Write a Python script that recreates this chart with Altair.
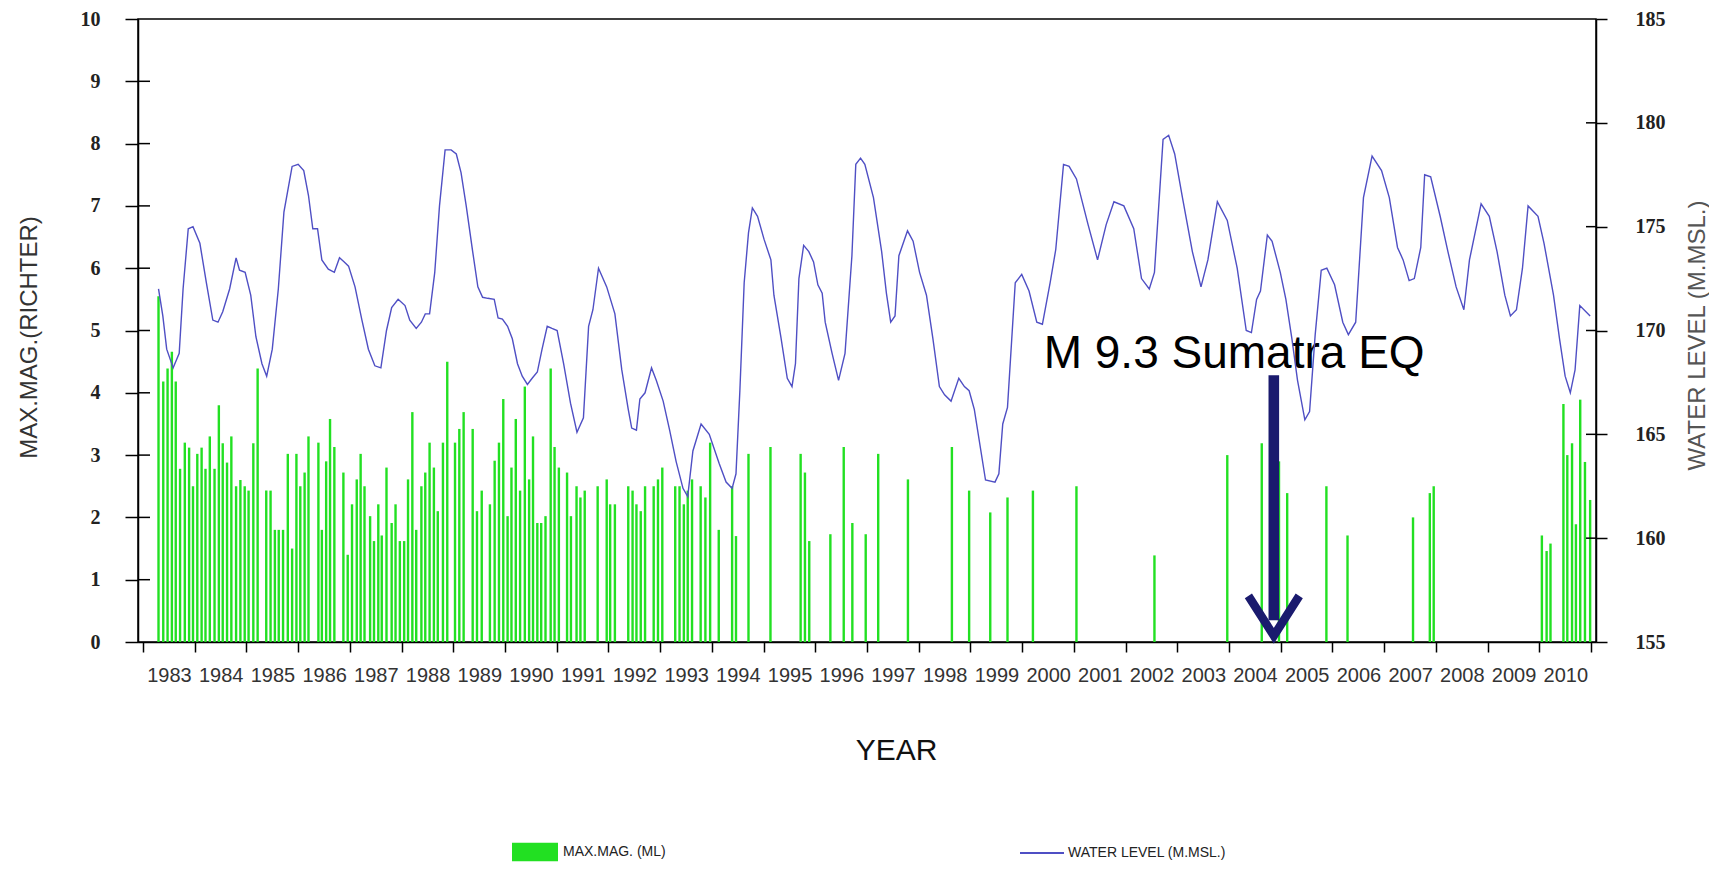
import altair as alt
import pandas as pd

# ---------------- data ----------------
# month index counted from Jan 1983 (0) to Dec 2010 end (336)
wl_month = [3.6, 4.6, 5.5, 7.0, 8.4, 9.3, 10.5, 11.6, 13.2, 14.7, 16.2, 17.4, 18.5, 20.1, 21.6, 22.4, 23.7,
            25.0, 26.2, 27.6, 28.7, 30.0, 31.4, 32.7, 34.6, 36.0, 37.3, 38.4, 39.4, 40.5, 41.5, 43.0, 44.4,
            45.6, 46.7, 47.7, 49.2, 50.8, 52.3, 53.8, 55.2, 56.5, 57.7, 59.2, 60.8, 61.9, 63.4, 64.6, 65.5,
            66.5, 67.7, 68.8, 70.1, 71.5, 72.7, 73.8, 75.0, 76.5, 77.7, 78.8, 80.0, 81.5, 82.4, 83.4, 84.6,
            85.7, 86.9, 88.0, 89.2, 90.3, 91.5, 92.6, 93.8, 94.9, 96.1, 97.6, 99.2, 100.7, 102.2, 103.4,
            104.4, 105.7, 107.6, 109.5, 111.1, 112.6, 113.4, 114.5, 115.3, 116.5, 118.0, 119.1, 120.7,
            122.2, 123.7, 125.3, 126.4, 127.6, 129.5, 131.4, 133.7, 135.3, 136.7, 137.6, 138.5, 139.5,
            140.5, 141.4, 142.6, 144.1, 145.7, 146.4, 148.0, 149.5, 150.6, 151.4, 152.2, 153.3, 154.5,
            155.6, 156.6, 157.6, 158.3, 159.9, 161.4, 162.9, 164.5, 165.4, 166.5, 167.5, 169.5, 171.4,
            172.5, 173.5, 174.5, 175.4, 177.4, 178.7, 180.2, 181.8, 183.3, 184.8, 186.0, 187.5, 189.3,
            190.6, 191.7, 192.9, 195.5, 197.7, 198.6, 199.5, 200.6, 202.4, 203.9, 205.6, 207.4, 208.7,
            210.5, 211.8, 213.6, 214.9, 216.6, 219.3, 221.5, 223.5, 225.3, 227.6, 229.9, 231.7, 233.5,
            234.7, 236.7, 238.0, 239.4, 241.2, 243.5, 245.5, 247.1, 249.3, 251.6, 253.9, 256.0, 257.2,
            258.4, 259.3, 260.9, 262.0, 263.9, 265.2, 266.6, 267.9, 269.6, 270.7, 272.0, 273.4, 274.7,
            276.5, 278.4, 279.7, 281.4, 283.2, 285.2, 287.4, 289.2, 291.1, 292.4, 293.8, 295.0, 296.5,
            297.4, 298.8, 301.0, 302.8, 304.7, 306.5, 307.8, 310.5, 312.4, 314.2, 316.0, 317.3, 318.7,
            320.1, 321.4, 323.7, 325.1, 327.3, 328.7, 330.0, 331.2, 332.3, 333.4, 335.8]
wl_level = [172.0, 170.7, 169.1, 168.2, 168.9, 172.0, 174.9, 175.0, 174.2, 172.3, 170.5, 170.4, 170.9, 172.0,
            173.5, 172.9, 172.8, 171.7, 169.7, 168.4, 167.8, 169.1, 172.0, 175.7, 177.9, 178.0, 177.7,
            176.5, 174.9, 174.9, 173.4, 172.95, 172.8, 173.5, 173.3, 173.1, 172.1, 170.5, 169.1, 168.3,
            168.2, 170.0, 171.1, 171.5, 171.2, 170.5, 170.1, 170.4, 170.8, 170.8, 172.8, 176.0, 178.7,
            178.7, 178.5, 177.6, 176.0, 173.8, 172.1, 171.6, 171.55, 171.5, 170.6, 170.55, 170.2, 169.6,
            168.4, 167.8, 167.4, 167.7, 168.0, 169.1, 170.2, 170.1, 170.0, 168.4, 166.5, 165.1, 165.8,
            170.2, 171.0, 173.0, 172.1, 170.8, 168.1, 166.2, 165.3, 165.2, 166.7, 167.0, 168.2, 167.6,
            166.6, 165.2, 163.7, 162.4, 162.0, 164.2, 165.5, 165.0, 163.6, 162.7, 162.4, 163.1, 167.1,
            172.3, 174.7, 175.9, 175.5, 174.4, 173.4, 171.7, 169.7, 167.7, 167.3, 168.4, 172.5, 174.1,
            173.8, 173.3, 172.2, 171.8, 170.4, 168.9, 167.6, 168.9, 173.6, 178.0, 178.3, 178.0, 176.4,
            173.8, 171.8, 170.4, 170.7, 173.6, 174.8, 174.3, 172.8, 171.7, 169.6, 167.3, 166.9, 166.6,
            167.7, 167.3, 167.1, 166.2, 162.8, 162.7, 163.1, 165.5, 166.3, 172.3, 172.7, 171.9, 170.4,
            170.3, 172.3, 173.9, 178.0, 177.9, 177.3, 175.1, 173.4, 175.1, 176.2, 176.0, 174.9, 172.5,
            172.0, 172.8, 179.2, 179.4, 178.5, 176.4, 173.8, 172.1, 173.4, 176.2, 175.3, 173.0, 170.0,
            169.9, 171.5, 171.9, 174.6, 174.3, 172.8, 171.5, 169.6, 167.6, 165.7, 166.1, 169.8, 172.9,
            173.0, 172.2, 170.4, 169.8, 170.4, 176.4, 178.4, 177.7, 176.4, 174.0, 173.4, 172.4, 172.5,
            174.0, 177.5, 177.4, 175.5, 173.8, 172.1, 171.0, 173.4, 176.1, 175.5, 173.8, 171.7, 170.7,
            171.0, 173.0, 176.0, 175.5, 174.2, 171.7, 169.6, 167.8, 167.0, 168.1, 171.2, 170.7]

eq_month = [3.6, 4.7, 5.7, 6.7, 7.6, 8.6, 9.7, 10.7, 11.6, 12.6, 13.6, 14.5, 15.5, 16.6, 17.6, 18.5, 19.5,
            20.5, 21.6, 22.6, 23.6, 24.5, 25.6, 26.6, 28.6, 29.6, 30.6, 31.5, 32.5, 33.6, 34.6, 35.6, 36.5,
            37.5, 38.4, 40.7, 41.5, 42.5, 43.4, 44.4, 46.5, 47.5,
            48.5, 49.6, 50.5, 51.4, 52.7, 53.6, 54.6, 55.4, 56.5, 57.7, 58.6, 59.6, 60.6, 61.5, 62.5, 63.4,
            64.6, 65.5, 66.5, 67.5, 68.4, 69.6, 70.6, 72.4, 73.4, 74.4, 76.5, 77.5, 78.6, 80.5, 81.6, 82.6,
            83.6, 84.6, 85.5, 86.5, 87.5, 88.6, 89.6, 90.5, 91.5, 92.4, 93.4, 94.6, 95.5,
            96.5, 98.4, 99.3, 100.6, 101.5, 102.5, 105.5, 107.6, 108.4, 109.5, 112.6, 113.6, 114.5, 115.5,
            116.5, 118.5, 119.5, 120.5, 123.5, 124.5, 125.5, 126.4, 127.4, 129.4, 130.5, 131.6, 133.6,
            136.7, 137.6, 140.5,
            145.6, 152.6, 153.6, 154.6, 159.5, 162.6, 164.6, 167.7, 170.6, 177.5, 187.7, 191.7,
            196.6, 200.6, 206.5, 216.6,
            234.7, 251.6, 259.6, 263.6, 265.5, 274.6, 279.5, 294.7, 298.6, 299.5, 324.6, 325.7, 326.6,
            329.6, 330.5, 331.6, 332.5, 333.5, 334.6, 335.8]
eq_mag = [5.55, 4.18, 4.39, 4.66, 4.18, 2.78, 3.2, 3.12, 2.5, 3.02, 3.12, 2.78, 3.3, 2.78, 3.8, 3.19, 2.88,
          3.3, 2.5, 2.6, 2.5, 2.43, 3.19, 4.39, 2.43, 2.43, 1.8, 1.8, 1.8, 3.02, 1.5, 3.02, 2.5,
          2.72, 3.3, 3.2, 1.8, 2.9, 3.58, 3.13, 2.72, 1.4,
          2.21, 2.61, 3.02, 2.5, 2.02, 1.62, 2.21, 1.71, 2.8, 1.91, 2.21, 1.62, 1.62, 2.61, 3.69, 1.8,
          2.5, 2.72, 3.2, 2.8, 2.1, 3.2, 4.5, 3.2, 3.42, 3.69, 3.42, 2.1, 2.43, 2.21, 2.91, 3.2,
          3.9, 2.02, 2.8, 3.58, 2.43, 4.1, 2.61, 3.3, 1.91, 1.91, 2.02, 4.39, 3.13,
          2.8, 2.72, 2.02, 2.5, 2.32, 2.43, 2.5, 2.61, 2.21, 2.21, 2.5, 2.43, 2.21, 2.1,
          2.5, 2.5, 2.61, 2.8, 2.5, 2.5, 2.21, 2.43, 2.61, 2.5, 2.32, 3.2, 1.8,
          2.5, 1.7, 3.02,
          3.13, 3.02, 2.72, 1.62, 1.73, 3.13, 1.91, 1.73, 3.02, 2.61, 3.13, 2.43,
          2.08, 2.32, 2.43, 2.5,
          1.39, 3.0, 3.19, 2.9, 2.39, 2.5, 1.71, 2.0, 2.39, 2.5, 1.71, 1.46, 1.58,
          3.82, 3.0, 3.19, 1.89, 3.89, 2.89, 2.28]

first_year = 1983
year_bounds = list(range(0, 337, 12))
left_ticks = [0, 1, 2, 3, 4, 5, 6, 7, 8, 9, 10]
right_ticks = [155, 160, 165, 170, 175, 180, 185]

note_text = "M 9.3 Sumatra EQ"
note_month, note_mag = 209.0, 4.40
arrow_month, arrow_top, arrow_bottom = 262.4, 4.28, 0.35
head_month = [256.5, 262.4, 268.3]
head_mag = [0.74, 0.10, 0.74]

bar_label = "MAX.MAG.  (ML)"
line_label = "WATER LEVEL (M.MSL.)"

# ---------------- chart ----------------
W, H = 1458, 623
SANS = "Liberation Sans"
SERIF = "Liberation Serif"

bars_df = pd.DataFrame({"month": eq_month, "mag": eq_mag, "series": bar_label})
line_df = pd.DataFrame({"month": wl_month, "level": wl_level, "series": line_label})

xs = alt.Scale(domain=[0, 336], nice=False, zero=False)
yl = alt.Scale(domain=[0, 10], nice=False, zero=False)
yr = alt.Scale(domain=[155, 185], nice=False, zero=False)

x_axis = alt.Axis(values=year_bounds,
                  labelExpr=f"datum.value < 336 ? '' + ({first_year} + round(datum.value/12)) : ''",
                  labelOffset=26, tickSize=10, labelPadding=13, labelFont=SANS, labelFontSize=20,
                  labelColor="#333", labelOverlap=False, labelBound=False, labelFlush=False,
                  title="YEAR", titleFont=SANS, titleFontSize=30, titleFontWeight="normal",
                  titleColor="#111", titleX=758, titleY=117, titleAlign="center",
                  titleBaseline="alphabetic", grid=False, domainColor="black", domainWidth=1.5,
                  tickColor="black", tickWidth=1.5)
left_axis = alt.Axis(values=left_ticks, tickSize=13, labelPadding=25, labelFont=SERIF,
                     labelFontSize=20, labelFontWeight="bold", labelColor="#222",
                     title="MAX.MAG.(RICHTER)", titleFont=SANS, titleFontSize=24,
                     titleFontWeight="normal", titleColor="#333", titleAngle=270,
                     titleX=-109, titleY=318, titleAlign="center", titleBaseline="middle",
                     grid=False, domainColor="black", domainWidth=1.5, tickColor="black",
                     tickWidth=1.5, labelBound=False, labelFlush=False)
right_axis = alt.Axis(values=right_ticks, tickSize=11, labelPadding=28, labelFont=SERIF,
                      labelFontSize=20, labelFontWeight="bold", labelColor="#222",
                      title="WATER LEVEL  (M.MSL.)", titleFont=SANS, titleFontSize=24,
                      titleFontWeight="normal", titleColor="#555", titleAngle=270,
                      titleX=101, titleY=316, titleAlign="center", titleBaseline="middle",
                      grid=False, domainColor="black", domainWidth=1.5, tickColor="black",
                      tickWidth=1.5, labelBound=False, labelFlush=False)

bars = alt.Chart(bars_df).mark_bar(width=2.4).encode(
    x=alt.X("month:Q", scale=xs, axis=x_axis),
    y=alt.Y("mag:Q", scale=yl, axis=left_axis),
    color=alt.Color("series:N", scale=alt.Scale(range=["#22e022"]),
                    legend=alt.Legend(orient="none", legendX=374, legendY=810, title=None,
                                      symbolType="M-1,-0.4H1V0.4H-1Z", symbolSize=2116,
                                      symbolStrokeWidth=0, symbolOpacity=1,
                                      labelFont=SANS, labelFontSize=14, labelColor="#222",
                                      labelOffset=5, padding=0)),
)

left_ticks_df = pd.DataFrame({"v": left_ticks[1:-1]})
left_inner = alt.Chart(left_ticks_df).mark_rule(color="black", strokeWidth=1.5).encode(
    y=alt.Y("v:Q", scale=yl, axis=left_axis), x=alt.value(0), x2=alt.value(12))

shaft_df = pd.DataFrame({"month": [arrow_month], "top": [arrow_top], "bottom": [arrow_bottom]})
shaft = alt.Chart(shaft_df).mark_rule(color="#1a1a6e", strokeWidth=10.6, strokeCap="butt").encode(
    x=alt.X("month:Q", scale=xs, axis=x_axis),
    y=alt.Y("top:Q", scale=yl, axis=left_axis), y2="bottom:Q")

head_df = pd.DataFrame({"month": head_month, "mag": head_mag, "o": [0, 1, 2]})
head = alt.Chart(head_df).mark_line(color="#1a1a6e", strokeWidth=8.5, strokeJoin="miter",
                                    strokeCap="butt").encode(
    x=alt.X("month:Q", scale=xs, axis=x_axis),
    y=alt.Y("mag:Q", scale=yl, axis=left_axis), order="o:Q")

note_df = pd.DataFrame({"month": [note_month], "mag": [note_mag], "t": [note_text]})
note = alt.Chart(note_df).mark_text(align="left", baseline="alphabetic", font=SANS, fontSize=46,
                                    color="black").encode(
    x=alt.X("month:Q", scale=xs, axis=x_axis),
    y=alt.Y("mag:Q", scale=yl, axis=left_axis), text="t:N")

left_group = alt.layer(bars, left_inner, shaft, head, note)

line = alt.Chart(line_df).mark_line(strokeWidth=1.4).encode(
    x=alt.X("month:Q", scale=xs, axis=x_axis),
    y=alt.Y("level:Q", scale=yr, axis=right_axis),
    stroke=alt.Stroke("series:N", scale=alt.Scale(range=["#4f4fc4"]),
                      legend=alt.Legend(orient="none", legendX=881, legendY=811, title=None,
                                        symbolType="stroke", symbolSize=1936,
                                        symbolStrokeWidth=2, labelFont=SANS, labelFontSize=14,
                                        labelColor="#222", labelOffset=3, padding=0)),
)

right_ticks_df = pd.DataFrame({"v": right_ticks[1:-1]})
right_inner = alt.Chart(right_ticks_df).mark_rule(color="black", strokeWidth=1.5).encode(
    y=alt.Y("v:Q", scale=yr, axis=right_axis), x=alt.value(W - 10), x2=alt.value(W))

right_group = alt.layer(line, right_inner)

chart = alt.layer(left_group, right_group).resolve_scale(y="independent").properties(
    width=W, height=H,
    padding={"left": 130, "top": 11, "right": 113, "bottom": 222},
    autosize=alt.AutoSizeParams(type="none"),
).configure_view(stroke="black", strokeWidth=1.5)

chart.save("out.html", embed_options={"renderer": "svg", "actions": False})
